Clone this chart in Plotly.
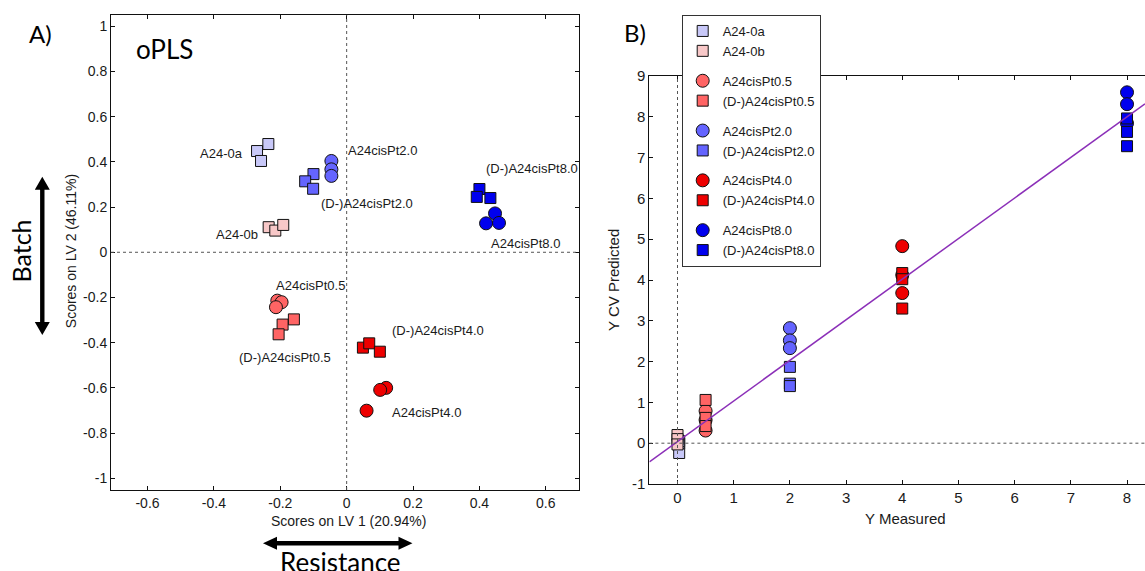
import plotly.graph_objects as go

W, H = 1145, 571

# ---------------- data ----------------
series_names = ["A24-0a", "A24-0b",
                "A24cisPt0.5", "(D-)A24cisPt0.5",
                "A24cisPt2.0", "(D-)A24cisPt2.0",
                "A24cisPt4.0", "(D-)A24cisPt4.0",
                "A24cisPt8.0", "(D-)A24cisPt8.0"]

# Panel A: oPLS scores (LV1, LV2) per group
lv1_0a = [-0.236, -0.270, -0.258]; lv2_0a = [0.479, 0.448, 0.404]
lv1_0b = [-0.235, -0.215, -0.191]; lv2_0b = [0.111, 0.096, 0.121]
lv1_p05 = [-0.209, -0.196, -0.213]; lv2_p05 = [-0.214, -0.221, -0.243]
lv1_dp05 = [-0.159, -0.193, -0.205]; lv2_dp05 = [-0.297, -0.320, -0.363]
lv1_p2 = [-0.046, -0.046, -0.046]; lv2_p2 = [0.404, 0.367, 0.338]
lv1_dp2 = [-0.100, -0.125, -0.101]; lv2_dp2 = [0.346, 0.314, 0.281]
lv1_p4 = [0.119, 0.101, 0.060]; lv2_p4 = [-0.600, -0.609, -0.701]
lv1_dp4 = [0.049, 0.068, 0.100]; lv2_dp4 = [-0.422, -0.403, -0.440]
lv1_p8 = [0.447, 0.420, 0.459]; lv2_p8 = [0.172, 0.128, 0.130]
lv1_dp8 = [0.400, 0.392, 0.433]; lv2_dp8 = [0.280, 0.245, 0.240]

# Panel B: Y measured and Y CV predicted per group
ymeas = [0.03, 0, 0.5, 0.5, 2, 2, 4, 4, 8, 8]
ypred_0a = [-0.24, 0.00, 0.05]
ypred_0b = [0.20, 0.10, -0.03]
ypred_p05 = [0.79, 0.57, 0.31]
ypred_dp05 = [1.06, 0.62, 0.42]
ypred_p2 = [2.82, 2.52, 2.33]
ypred_dp2 = [1.87, 1.46, 1.40]
ypred_p4 = [4.83, 4.12, 3.68]
ypred_dp4 = [4.17, 4.02, 3.30]
ypred_p8 = [8.60, 8.31, 7.84]
ypred_dp8 = [7.96, 7.63, 7.28]

# regression line (Y predicted vs Y measured)
fit_slope = 0.995
fit_intercept = 0.04

# tick labels
a_xticks = [-0.6, -0.4, -0.2, 0, 0.2, 0.4, 0.6]
a_xticktext = ["-0.6", "-0.4", "-0.2", "0", "0.2", "0.4", "0.6"]
a_yticks = [-1, -0.8, -0.6, -0.4, -0.2, 0, 0.2, 0.4, 0.6, 0.8, 1]
a_yticktext = ["-1", "-0.8", "-0.6", "-0.4", "-0.2", "0", "0.2", "0.4", "0.6", "0.8", "1"]
b_xticks = [0, 1, 2, 3, 4, 5, 6, 7, 8]
b_xticktext = [str(v) for v in b_xticks]
b_yticks = [-1, 0, 1, 2, 3, 4, 5, 6, 7, 8, 9]
b_yticktext = [str(v) for v in b_yticks]

lv1 = [lv1_0a, lv1_0b, lv1_p05, lv1_dp05, lv1_p2, lv1_dp2, lv1_p4, lv1_dp4, lv1_p8, lv1_dp8]
lv2 = [lv2_0a, lv2_0b, lv2_p05, lv2_dp05, lv2_p2, lv2_dp2, lv2_p4, lv2_dp4, lv2_p8, lv2_dp8]
ypred = [ypred_0a, ypred_0b, ypred_p05, ypred_dp05, ypred_p2, ypred_dp2,
         ypred_p4, ypred_dp4, ypred_p8, ypred_dp8]

# ---------------- styles ----------------
colors = ["#C8C8F8", "#F8C8C8", "#FF6464", "#FF6464", "#6464FF", "#6464FF",
          "#EE0000", "#EE0000", "#0000EE", "#0000EE"]
symbols = ["square", "square", "circle", "square", "circle", "square",
           "circle", "square", "circle", "square"]
legend_groups = ["g0", "g0", "g1", "g1", "g2", "g2", "g3", "g3", "g4", "g4"]

# label placements in panel A (data coords, anchor)
label_pos = {
    "A24-0a": (-0.306, 0.435, "right"),
    "A24-0b": (-0.260, 0.077, "right"),
    "A24cisPt2.0": (-0.003, 0.450, "left"),
    "(D-)A24cisPt2.0": (-0.084, 0.214, "left"),
    "(D-)A24cisPt8.0": (0.413, 0.369, "left"),
    "A24cisPt8.0": (0.430, 0.038, "left"),
    "A24cisPt0.5": (-0.220, -0.146, "left"),
    "(D-)A24cisPt0.5": (-0.329, -0.466, "left"),
    "(D-)A24cisPt4.0": (0.132, -0.347, "left"),
    "A24cisPt4.0": (0.132, -0.710, "left"),
}

ARIAL = "Arial, Liberation Sans, sans-serif"
CAL = "Lato, Open Sans, sans-serif"
TXT = "#1a1a1a"


def pxx(p):
    return p / W


def pxy(p):
    return 1 - p / H


fig = go.Figure()

for i, name in enumerate(series_names):
    sz = 13 if symbols[i] == "circle" else 11
    mk = dict(symbol=symbols[i], color=colors[i], size=sz,
              line=dict(color="#111111", width=1))
    fig.add_trace(go.Scatter(x=lv1[i], y=lv2[i], mode="markers", marker=mk,
                             name=name, showlegend=False, legendgroup=legend_groups[i],
                             xaxis="x", yaxis="y", hoverinfo="skip"))

for i, name in enumerate(series_names):
    sz = 13 if symbols[i] == "circle" else 11
    mk = dict(symbol=symbols[i], color=colors[i], size=sz,
              line=dict(color="#111111", width=1))
    fig.add_trace(go.Scatter(x=[ymeas[i]] * len(ypred[i]), y=ypred[i], mode="markers",
                             marker=mk, name=name, showlegend=True,
                             legendgroup=legend_groups[i],
                             xaxis="x2", yaxis="y2"))

bx_range = [-0.5, 8.32]
fig.add_trace(go.Scatter(x=bx_range,
                         y=[fit_intercept + fit_slope * v for v in bx_range],
                         mode="lines", line=dict(color="#8B2FB8", width=1.5),
                         showlegend=False, xaxis="x2", yaxis="y2", hoverinfo="skip"))

axis_common = dict(showgrid=False, zeroline=False, showline=True, linecolor="#111111",
                   linewidth=1, ticks="inside", ticklen=4, tickcolor="#111111",
                   automargin=False)

fig.update_layout(
    template="none",
    width=W, height=H, margin=dict(l=0, r=0, t=0, b=0, pad=0, autoexpand=False),
    paper_bgcolor="white", plot_bgcolor="white",
    font=dict(family=ARIAL, color=TXT),
    xaxis=dict(domain=[pxx(111), pxx(579)], range=[-0.71, 0.70], mirror="ticks",
               tickvals=a_xticks, ticktext=a_xticktext, tickfont=dict(size=14),
               anchor="y", **axis_common),
    yaxis=dict(domain=[pxy(490), pxy(15)], range=[-1.052, 1.05], mirror="ticks",
               tickvals=a_yticks, ticktext=a_yticktext, tickfont=dict(size=14),
               anchor="x", **axis_common),
    xaxis2=dict(domain=[pxx(649.4), 1.0], range=bx_range, mirror="ticks",
                tickvals=b_xticks, ticktext=b_xticktext, tickfont=dict(size=15),
                anchor="y2", **axis_common),
    yaxis2=dict(domain=[pxy(484), pxy(76)], range=[-1, 9], mirror=False,
                tickvals=b_yticks, ticktext=b_yticktext, tickfont=dict(size=15),
                anchor="x2", **axis_common),
    legend=dict(x=pxx(681.7), y=pxy(15), xanchor="left", yanchor="top",
                bgcolor="white", bordercolor="#333333", borderwidth=1,
                font=dict(size=13, family=ARIAL, color=TXT),
                traceorder="grouped", tracegroupgap=10),
)

shapes = []
# reference (zero) lines
dot = dict(color="#555555", width=1, dash="dot")
shapes.append(dict(type="line", xref="x", yref="y domain", x0=0, x1=0, y0=0, y1=1, line=dot))
shapes.append(dict(type="line", xref="x domain", yref="y", x0=0, x1=1, y0=0, y1=0, line=dot))
shapes.append(dict(type="line", xref="x2", yref="y2 domain", x0=0, x1=0, y0=0, y1=1, line=dot))
shapes.append(dict(type="line", xref="x2 domain", yref="y2", x0=0, x1=1, y0=0, y1=0, line=dot))


def vpath(xc, y0, y1, shaft=2.2, hw=7.5, hl=13):
    pts = [(xc, y0), (xc + hw, y0 + hl), (xc + shaft, y0 + hl), (xc + shaft, y1 - hl),
           (xc + hw, y1 - hl), (xc, y1), (xc - hw, y1 - hl), (xc - shaft, y1 - hl),
           (xc - shaft, y0 + hl), (xc - hw, y0 + hl)]
    return "M " + " L ".join(f"{pxx(a):.5f},{pxy(b):.5f}" for a, b in pts) + " Z"


def hpath(yc, x0, x1, shaft=2.2, hw=6.5, hl=14):
    pts = [(x0, yc), (x0 + hl, yc - hw), (x0 + hl, yc - shaft), (x1 - hl, yc - shaft),
           (x1 - hl, yc - hw), (x1, yc), (x1 - hl, yc + hw), (x1 - hl, yc + shaft),
           (x0 + hl, yc + shaft), (x0 + hl, yc + hw)]
    return "M " + " L ".join(f"{pxx(a):.5f},{pxy(b):.5f}" for a, b in pts) + " Z"


shapes.append(dict(type="path", xref="paper", yref="paper", path=vpath(42.3, 176.7, 335),
                   fillcolor="black", line=dict(width=0)))
shapes.append(dict(type="path", xref="paper", yref="paper", path=hpath(543.3, 263, 412.5),
                   fillcolor="black", line=dict(width=0)))
fig.update_layout(shapes=shapes)

ann = []
for name, (lx, ly, anc) in label_pos.items():
    ann.append(dict(x=lx, y=ly, xref="x", yref="y", text=name, showarrow=False,
                    xanchor=anc, yanchor="middle", font=dict(size=13, family=ARIAL, color=TXT)))

# axis titles
ann.append(dict(x=pxx(348.7), y=pxy(520.7), xref="paper", yref="paper",
                text="Scores on LV 1 (20.94%)", showarrow=False, xanchor="center",
                yanchor="middle", font=dict(size=14, family=ARIAL, color=TXT)))
ann.append(dict(x=pxx(70.7), y=pxy(251.5), xref="paper", yref="paper",
                text="Scores on LV 2 (46.11%)", showarrow=False, textangle=-90,
                xanchor="center", yanchor="middle", font=dict(size=14, family=ARIAL, color=TXT)))
ann.append(dict(x=pxx(905), y=pxy(518.7), xref="paper", yref="paper",
                text="Y Measured", showarrow=False, xanchor="center",
                yanchor="middle", font=dict(size=15, family=ARIAL, color=TXT)))
ann.append(dict(x=pxx(614), y=pxy(280), xref="paper", yref="paper",
                text="Y CV Predicted", showarrow=False, textangle=-90,
                xanchor="center", yanchor="middle", font=dict(size=15, family=ARIAL, color=TXT)))

# panel labels and decorations
ann.append(dict(x=pxx(27), y=pxy(33.5), xref="paper", yref="paper", text="A)",
                showarrow=False, xanchor="left", yanchor="middle",
                font=dict(size=24, family=CAL, color="black")))
ann.append(dict(x=pxx(622), y=pxy(32), xref="paper", yref="paper", text="B)",
                showarrow=False, xanchor="left", yanchor="middle",
                font=dict(size=24, family=CAL, color="black")))
ann.append(dict(x=pxx(134), y=pxy(49), xref="paper", yref="paper", text="oPLS",
                showarrow=False, xanchor="left", yanchor="middle",
                font=dict(size=26, family=CAL, color="black")))
ann.append(dict(x=pxx(20), y=pxy(251.5), xref="paper", yref="paper", text="Batch",
                showarrow=False, textangle=-90, xanchor="center", yanchor="middle",
                font=dict(size=25, family=CAL, color="black")))
ann.append(dict(x=pxx(340.6), y=pxy(562), xref="paper", yref="paper", text="Resistance",
                showarrow=False, xanchor="center", yanchor="middle",
                font=dict(size=26, family=CAL, color="black")))
fig.update_layout(annotations=ann)

fig.write_html("out.html", config={"displayModeBar": False},
               post_script="document.body.style.margin='0';")
